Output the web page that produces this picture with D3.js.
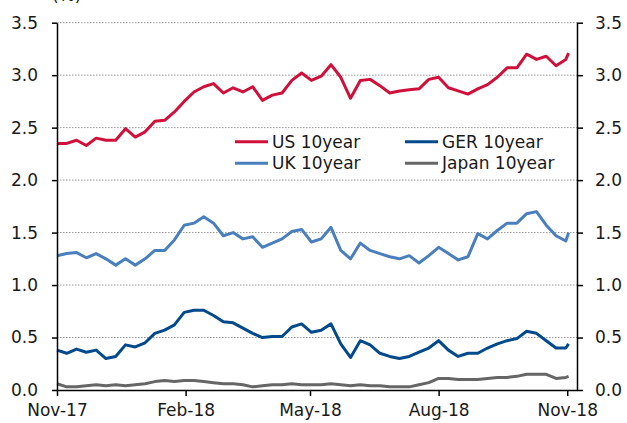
<!DOCTYPE html>
<meta charset="utf-8">
<style>
body { margin: 0; background: #fff; }
text { font-family: "DejaVu Sans", sans-serif; fill: #1a1a1a; }
.line { fill: none; stroke-width: 3px; stroke-linejoin: round; }
.grid line { stroke: #999; stroke-width: 1px; stroke-dasharray: 1.5,1.5; }
.axis path, .axis line { stroke: #000; stroke-width: 1.5px; }
.axis text { font-size: 17px; }
</style>
<body>
<script src="https://cdn.jsdelivr.net/npm/d3@7"></script>
<script>

var dates = ["2017-11-01","2017-11-08","2017-11-15","2017-11-22","2017-11-29","2017-12-06","2017-12-13","2017-12-20","2017-12-27",
  "2018-01-03","2018-01-10","2018-01-17","2018-01-24","2018-01-31","2018-02-07","2018-02-14","2018-02-21","2018-02-28",
  "2018-03-07","2018-03-14","2018-03-21","2018-03-28","2018-04-04","2018-04-11","2018-04-18","2018-04-25",
  "2018-05-02","2018-05-09","2018-05-16","2018-05-23","2018-05-30","2018-06-06","2018-06-13","2018-06-20","2018-06-27",
  "2018-07-04","2018-07-11","2018-07-18","2018-07-25","2018-08-01","2018-08-08","2018-08-15","2018-08-22","2018-08-29",
  "2018-09-05","2018-09-12","2018-09-19","2018-09-26","2018-10-03","2018-10-10","2018-10-17","2018-10-24","2018-10-31","2018-11-02"];

var us = [2.35, 2.35, 2.38, 2.33, 2.40, 2.38, 2.38, 2.49, 2.41, 2.46, 2.56, 2.57, 2.65, 2.75, 2.84, 2.89, 2.92, 2.83, 2.88, 2.84,
  2.89, 2.76, 2.81, 2.83, 2.95, 3.02, 2.95, 2.99, 3.10, 2.98, 2.78, 2.95, 2.96, 2.90, 2.83, 2.85, 2.86, 2.87, 2.96, 2.98,
  2.88, 2.85, 2.82, 2.87, 2.91, 2.98, 3.07, 3.07, 3.20, 3.15, 3.18, 3.09, 3.15, 3.21];
var uk = [1.28, 1.30, 1.31, 1.26, 1.30, 1.25, 1.19, 1.25, 1.19, 1.25, 1.33, 1.33, 1.43, 1.57, 1.59, 1.65, 1.59, 1.47, 1.50, 1.44,
  1.46, 1.36, 1.40, 1.44, 1.51, 1.53, 1.41, 1.44, 1.55, 1.33, 1.25, 1.40, 1.33, 1.30, 1.27, 1.25, 1.28, 1.21, 1.28, 1.36,
  1.30, 1.24, 1.27, 1.49, 1.44, 1.52, 1.59, 1.59, 1.68, 1.70, 1.57, 1.47, 1.42, 1.50];
var ger = [0.38, 0.35, 0.39, 0.36, 0.38, 0.30, 0.32, 0.43, 0.41, 0.45, 0.54, 0.57, 0.62, 0.74, 0.76, 0.76, 0.71, 0.65, 0.64, 0.59,
  0.54, 0.50, 0.51, 0.51, 0.60, 0.63, 0.55, 0.57, 0.63, 0.44, 0.31, 0.47, 0.43, 0.35, 0.32, 0.30, 0.32, 0.36, 0.40, 0.47,
  0.38, 0.32, 0.35, 0.35, 0.40, 0.44, 0.47, 0.49, 0.56, 0.54, 0.47, 0.40, 0.40, 0.44];
var japan = [0.06, 0.03, 0.03, 0.04, 0.05, 0.04, 0.05, 0.04, 0.05, 0.06, 0.08, 0.09, 0.08, 0.09, 0.09, 0.08, 0.07, 0.06, 0.06, 0.05,
  0.03, 0.04, 0.05, 0.05, 0.06, 0.05, 0.05, 0.05, 0.06, 0.05, 0.04, 0.05, 0.04, 0.04, 0.03, 0.03, 0.03, 0.05, 0.07, 0.11,
  0.11, 0.10, 0.10, 0.10, 0.11, 0.12, 0.12, 0.13, 0.15, 0.15, 0.15, 0.11, 0.12, 0.13];

var xTicks = ["2017-11-01", "2018-02-01", "2018-05-01", "2018-08-01", "2018-11-01"];
var yTicks = [0.0, 0.5, 1.0, 1.5, 2.0, 2.5, 3.0, 3.5];

var series = [
  {name: "Japan 10year", values: japan, color: "#666666"},
  {name: "GER 10year", values: ger, color: "#004a8c"},
  {name: "UK 10year", values: uk, color: "#4a7fbe"},
  {name: "US 10year", values: us, color: "#d0103a"}
];

var margin = {top: 22.7, right: 50, bottom: 33, left: 57},
    width = 627 - margin.left - margin.right,
    height = 423 - margin.top - margin.bottom;

var parseDate = d3.timeParse("%Y-%m-%d");
var fmt = d3.timeFormat("%b-%y");

var x = d3.scaleTime()
    .domain([parseDate("2017-11-01"), parseDate("2018-11-08")])
    .range([0, width]);
var y = d3.scaleLinear().domain([0, 3.5]).range([height, 0]);

var svg = d3.select("body").append("svg")
    .attr("width", 627)
    .attr("height", 423)
  .append("g")
    .attr("transform", "translate(" + margin.left + "," + margin.top + ")");

// units label, partly cut off at the top
svg.append("text")
    .attr("x", -5)
    .attr("y", -22)
    .style("font-size", "17px")
    .text("(%)");

// dotted gridlines
svg.append("g")
    .attr("class", "grid")
  .selectAll("line")
  .data(yTicks.filter(function(d) { return d > 0; }))
  .enter().append("line")
    .attr("x1", 0)
    .attr("x2", width)
    .attr("y1", function(d) { return y(d); })
    .attr("y2", function(d) { return y(d); });

var line = d3.line()
    .x(function(d) { return x(d.date); })
    .y(function(d) { return y(d.val); });

series.forEach(function(s) {
  var pts = s.values.map(function(v, i) { return {date: parseDate(dates[i]), val: v}; });
  svg.append("path")
      .datum(pts)
      .attr("class", "line")
      .attr("d", line)
      .style("stroke", s.color);
});

// axes
svg.append("g")
    .attr("class", "axis")
    .call(d3.axisLeft(y).tickValues(yTicks).tickFormat(d3.format(".1f")).tickSize(5).tickSizeOuter(0).tickPadding(14));

svg.append("g")
    .attr("class", "axis")
    .attr("transform", "translate(" + width + ",0)")
    .call(d3.axisRight(y).tickValues(yTicks).tickFormat(d3.format(".1f")).tickSize(6).tickSizeOuter(0).tickPadding(12));

svg.append("g")
    .attr("class", "axis")
    .attr("transform", "translate(0," + height + ")")
    .call(d3.axisBottom(x).tickValues(xTicks.map(parseDate)).tickFormat(fmt).tickSize(6).tickSizeOuter(0).tickPadding(4))
  .selectAll("text")
    .attr("dy", "0.95em");

// legend
var legendItems = [
  {name: "US 10year", color: "#d0103a", lx: 235, ly: 141.7},
  {name: "GER 10year", color: "#004a8c", lx: 405, ly: 141.7},
  {name: "UK 10year", color: "#4a7fbe", lx: 235, ly: 163.3},
  {name: "Japan 10year", color: "#666666", lx: 405, ly: 163.3}
];

var legend = svg.append("g")
    .attr("transform", "translate(" + (-margin.left) + "," + (-margin.top) + ")");

legendItems.forEach(function(d) {
  legend.append("line")
      .attr("x1", d.lx)
      .attr("x2", d.lx + 33)
      .attr("y1", d.ly)
      .attr("y2", d.ly)
      .style("stroke", d.color)
      .style("stroke-width", 3);
  legend.append("text")
      .attr("x", d.lx + 37)
      .attr("y", d.ly + 5.8)
      .style("font-size", "17px")
      .text(d.name);
});

</script>
</body>
</html>
